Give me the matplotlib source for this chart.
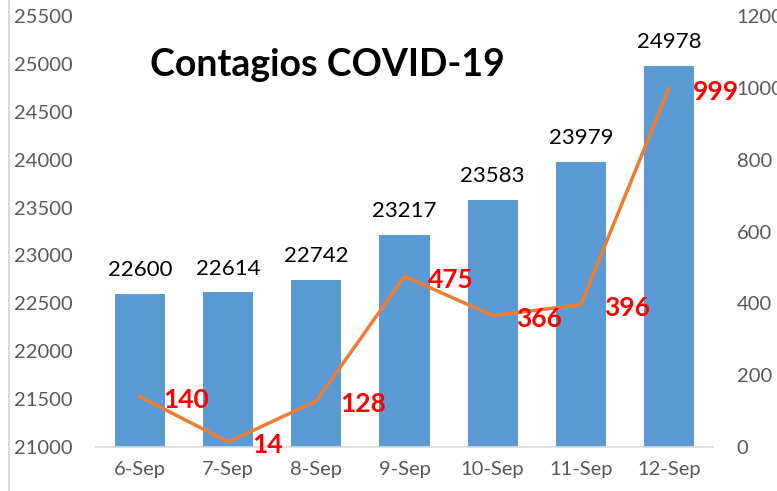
import matplotlib
matplotlib.use("Agg")
import matplotlib.pyplot as plt
from matplotlib.lines import Line2D

categories = ["6-Sep", "7-Sep", "8-Sep", "9-Sep", "10-Sep", "11-Sep", "12-Sep"]
total_cases = [22600, 22614, 22742, 23217, 23583, 23979, 24978]
new_cases = [140, 14, 128, 475, 366, 396, 999]
left_ticks = list(range(21000, 25501, 500))
right_ticks = list(range(0, 1201, 200))

plt.rcParams['font.family'] = ['Lato', 'DejaVu Sans']
fig = plt.figure(figsize=(7.77, 4.91), dpi=100)
ax = fig.add_axes([96/777, 1-447/491, (713-96)/777, (447-16)/491])
ax2 = ax.twinx()

x = list(range(len(categories)))
bars = ax.bar(x, total_cases, width=0.57, color="#5B9BD5", zorder=2)
ax.set_ylim(21000, 25500)
ax.set_xlim(-0.5, len(categories)-0.5)
ax.set_yticks(left_ticks)
ax.set_yticklabels([str(t) for t in left_ticks])
ax.set_xticks(x)
ax.set_xticklabels(categories)
ax.tick_params(axis='both', length=0, colors="#595959", labelsize=14.5)
ax.tick_params(axis='y', pad=17)
ax.tick_params(axis='x', pad=10)
for s in ["top", "right", "left"]:
    ax.spines[s].set_visible(False)
ax.spines["bottom"].set_color("#d9d9d9")
ax.spines["bottom"].set_linewidth(1.2)

for xi, v in zip(x, total_cases):
    ax.annotate(str(v), (xi, v), xytext=(0, 10), textcoords="offset points",
                ha="center", va="bottom", fontsize=16, color="black")

ax2.plot(x, new_cases, color="#ED7D31", linewidth=2.5, zorder=3)
ax2.set_ylim(0, 1200)
ax2.set_yticks(right_ticks)
ax2.set_yticklabels([str(t) for t in right_ticks])
ax2.tick_params(axis='y', length=0, colors="#595959", labelsize=14.5, pad=17)
for s in ["top", "right", "left", "bottom"]:
    ax2.spines[s].set_visible(False)

for xi, v in zip(x, new_cases):
    ax2.annotate(str(v), (xi, v), xytext=(17, -2.5), textcoords="offset points",
                 ha="left", va="center", fontsize=19, fontweight="bold", color="#FF0000")

fig.text(327/777, 1-65/491, "Contagios COVID-19", ha="center", va="center",
         fontsize=27, fontweight="bold", color="black")

fig.add_artist(Line2D([9/777, 9/777], [0, 1], transform=fig.transFigure,
                      color="#d9d9d9", linewidth=1.5))

fig.savefig("out.png", dpi=100)
